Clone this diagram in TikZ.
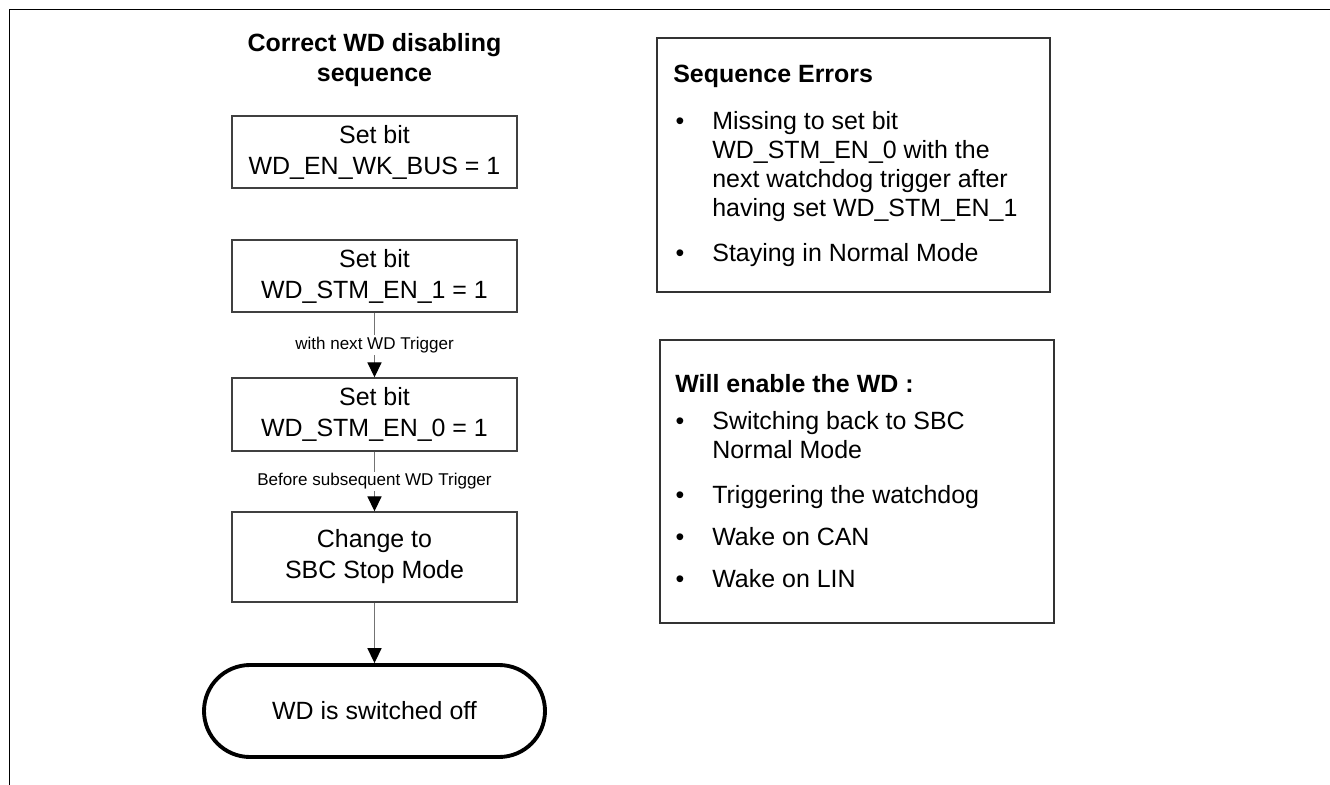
\documentclass[tikz,border=0pt]{standalone}
\usepackage{fontspec}
\setmainfont{Liberation Sans}
\usetikzlibrary{arrows.meta, positioning}

\begin{document}
\begin{tikzpicture}[
  every node/.style={font=\fontsize{14.2}{17.6}\selectfont},
  box/.style={rectangle,draw=black!75,line width=0.8pt,minimum width=5.7cm,align=center},
  panel/.style={rectangle,draw=black!80,line width=0.9pt,anchor=north west,inner sep=0pt},
  txt/.style={anchor=north west,inner sep=0pt,align=left,font=\fontsize{14.2}{16.5}\selectfont},
  dot/.style={anchor=north,inner sep=0pt,font=\fontsize{14.2}{16.5}\selectfont},
  flow/.style={draw=black!55,line width=0.7pt,-{Triangle[length=8.5pt,width=8pt,color=black]}},
  lbl/.style={fill=white,inner sep=1pt,font=\fontsize{9.7}{11}\selectfont},
]
  \useasboundingbox (0,0) rectangle (26.6,-15.7);
  \draw[line width=1.1pt] (26.6,-0.19) -- (0.19,-0.19) -- (0.19,-15.7);

  % left column
  \node[font=\bfseries\fontsize{14.2}{17}\selectfont,align=center] (T) at (7.49,-1.2) {Correct WD disabling\\sequence};
  \node[box,minimum height=1.44cm] (S1) at (7.49,-3.04) {Set bit\\WD\_EN\_WK\_BUS = 1};
  \node[box,minimum height=1.44cm] (S2) at (7.49,-5.52) {Set bit\\WD\_STM\_EN\_1 = 1};
  \node[box,minimum height=1.46cm] (S3) at (7.49,-8.29) {Set bit\\WD\_STM\_EN\_0 = 1};
  \node[box,minimum height=1.8cm] (SM) at (7.49,-11.14) {Change to\\SBC Stop Mode};
  \node[rectangle,rounded corners=0.92cm,draw,line width=2.2pt,minimum width=6.82cm,minimum height=1.84cm] (OFF) at (7.49,-14.22) {WD is switched off};

  \draw[flow] (S2) -- node[lbl]{with next WD Trigger} (S3);
  \draw[flow] (S3) -- node[lbl]{Before subsequent WD Trigger} (SM);
  \draw[flow] (SM) -- (OFF);

  % right column
  \node[panel,minimum width=7.86cm,minimum height=5.08cm] (ERR) at (13.12,-0.74) {};
  \node[txt,font=\bfseries\fontsize{14.2}{16.5}\selectfont] (ERRT) at (13.46,-1.234) {\strut Sequence Errors};
  \node[dot] (E1d) at (13.6,-2.174) {\strut\textbullet};
  \node[txt] (E1) at (14.24,-2.174) {\strut Missing to set bit\\WD\_STM\_EN\_0 with the\\next watchdog trigger after\\having set WD\_STM\_EN\_1};
  \node[dot] (E2d) at (13.6,-4.814) {\strut\textbullet};
  \node[txt] (E2) at (14.24,-4.814) {\strut Staying in Normal Mode};

  \node[panel,minimum width=7.88cm,minimum height=5.66cm] (EN) at (13.18,-6.78) {};
  \node[txt,font=\bfseries\fontsize{14.2}{16.5}\selectfont] (ENT) at (13.5,-7.434) {\strut Will enable the WD :};
  \node[dot] (W1d) at (13.6,-8.174) {\strut\textbullet};
  \node[txt] (W1) at (14.24,-8.174) {\strut Switching back to SBC\\Normal Mode};
  \node[dot] (W2d) at (13.6,-9.654) {\strut\textbullet};
  \node[txt] (W2) at (14.24,-9.654) {\strut Triggering the watchdog};
  \node[dot] (W3d) at (13.6,-10.494) {\strut\textbullet};
  \node[txt] (W3) at (14.24,-10.494) {\strut Wake on CAN};
  \node[dot] (W4d) at (13.6,-11.334) {\strut\textbullet};
  \node[txt] (W4) at (14.24,-11.334) {\strut Wake on LIN};
\end{tikzpicture}
\end{document}
